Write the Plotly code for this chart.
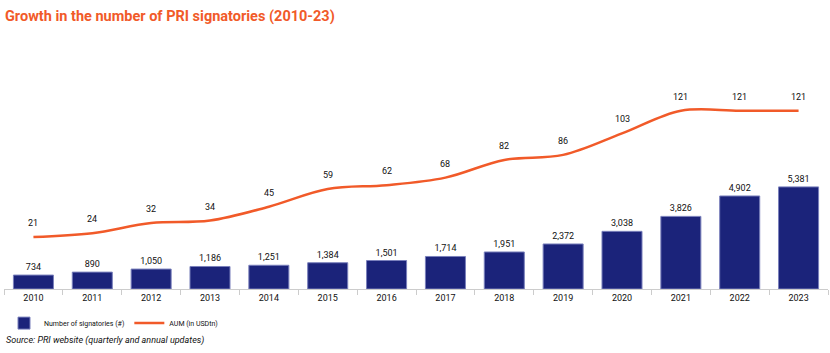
import plotly.graph_objects as go

years = [str(y) for y in range(2010, 2024)]
signatories = [734, 890, 1050, 1186, 1251, 1384, 1501, 1714, 1951, 2372, 3038, 3826, 4902, 5381]
aum = [21, 24, 32, 34, 45, 59, 62, 68, 82, 86, 103, 121, 121, 121]

FONT = "Roboto, sans-serif"
ORANGE = "#F15A29"
NAVY = "#1B237A"

fig = go.Figure()
fig.add_trace(go.Bar(
    x=years, y=signatories, name="Number of signatories (#)",
    marker=dict(color=NAVY, line=dict(color="#7A80BC", width=1)),
    text=[f"{v:,}" for v in signatories], textposition="outside",
    textfont=dict(size=9, color="#111", family=FONT), cliponaxis=False,
))
fig.add_trace(go.Scatter(
    x=years, y=aum, name="AUM (in USDtn)", yaxis="y2",
    mode="lines", line=dict(color=ORANGE, width=2.5, shape="spline", smoothing=1.0),
    cliponaxis=False,
))

annotations = [dict(x=i, y=v, xref="x", yref="y2", text=str(v), showarrow=False,
                    yshift=14, font=dict(size=9, color="#111", family=FONT))
               for i, v in enumerate(aum)]
annotations.append(dict(text="<i>Source: PRI website (quarterly and annual updates)</i>",
                        xref="paper", yref="paper", x=0.0, y=-0.205, xanchor="left",
                        yanchor="middle", showarrow=False,
                        font=dict(size=9, color="#111", family=FONT)))

fig.update_layout(
    width=830, height=353,
    margin=dict(l=4, r=2, t=40, b=64),
    paper_bgcolor="white", plot_bgcolor="white",
    bargap=0.32,
    font=dict(family=FONT, color="#111"),
    title=dict(text="<b>Growth in the number of PRI signatories (2010-23)</b>",
               x=0.006, xanchor="left", y=0.955, yanchor="middle",
               font=dict(size=14.5, color=ORANGE, family=FONT)),
    xaxis=dict(type="category", range=[-0.5, len(years) - 0.5],
               showline=True, linecolor="#cccccc", linewidth=1,
               ticks="outside", tickson="boundaries", ticklen=5, tickcolor="#cccccc",
               tickfont=dict(size=9, color="#111"), showgrid=False),
    yaxis=dict(range=[0, 13120], visible=False, showgrid=False),
    yaxis2=dict(range=[-20.2, 177], overlaying="y", visible=False, showgrid=False),
    legend=dict(orientation="h", x=0.0, xanchor="left", y=-0.137, yanchor="middle",
                font=dict(size=7, color="#111"), itemwidth=30, traceorder="normal"),
    annotations=annotations,
)

fig.write_html("out.html")
